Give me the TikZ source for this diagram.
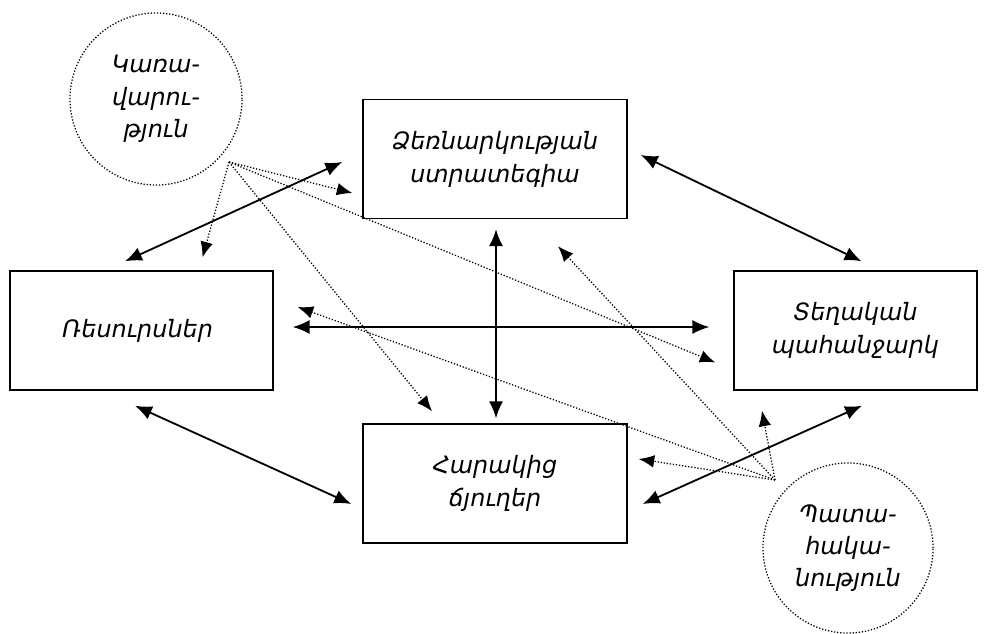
\documentclass[tikz,border=0pt]{standalone}
\usepackage{fontspec}
\setmainfont{DejaVu Sans}
\usetikzlibrary{
	arrows.meta,
	positioning,
	calc
}

\begin{document}
\begin{tikzpicture}[x=0.025cm, y=-0.025cm,
		box/.style={draw, line width=1pt, minimum height=2.975cm, align=center, font=\itshape\fontsize{17}{23.5}\selectfont},
		cloud/.style={draw, dash pattern=on 0.9pt off 1.3pt, line width=0.9pt, circle, inner sep=0pt, align=center, font=\itshape\fontsize{17}{23}\selectfont},
		link/.style={{Latex[length=12pt,width=10pt]}-{Latex[length=12pt,width=10pt]}, line width=1.3pt},
		hint/.style={-{Latex[length=11pt,width=9pt]}, dash pattern=on 0.9pt off 1.3pt, line width=0.9pt}
		]
		
		\useasboundingbox[fill=white] (0,0) rectangle (987,633);
		
		\node[box, minimum width=6.6cm] (strat) at (495,159) {
			Ձեռնարկության\\
			ստրատեգիա
		};
		
		\node[box, minimum width=6.6cm, below=5.1cm of strat] (ind) {
			Հարակից\\
			ճյուղեր
		};
		
		\node[box, minimum width=6.575cm] (res) at (141.5,330.5) {
			Ռեսուրսներ
		};
		
		\node[box, minimum width=6.075cm] (dem) at (855.5,330.5) {
			Տեղական\\
			պահանջարկ
		};
		
		\node[cloud, minimum size=4.3cm] (gov) at (156,99) {
			Կառա-\\
			վարու-\\
			թյուն
		};
		
		\node[cloud, minimum size=4.25cm] (luck) at (848,548) {
			Պատա-\\
			հակա-\\
			նություն
		};
		
		\coordinate (govsrc) at ($(gov)+(73,63)$);
		\coordinate (lucksrc) at ($(luck)+(-73,-68)$);
		
		\draw[link] ($(res.north)+(-16.5,-9)$) -- ($(strat.west)+(-20,3)$);
		\draw[link] ($(strat.east)+(13,-4)$) -- ($(dem.north)+(6,-9)$);
		\draw[link] ($(res.east)+(19,-3.5)$) -- ($(dem.west)+(-24,-3.5)$);
		\draw[link] ($(strat.south)+(1,10)$) -- ($(ind.north)+(1,-5)$);
		\draw[link] ($(res.south)+(-6.5,15)$) -- ($(ind.west)+(-11,20.5)$);
		\draw[link] ($(dem.south)+(6.5,15)$) -- ($(ind.east)+(15,20.5)$);
		
		\draw[hint] (govsrc) -- ($(res.north)+(61,-13)$);
		\draw[hint] (govsrc) -- ($(strat.west)+(-10,34)$);
		\draw[hint] (govsrc) -- ($(ind.north)+(-63,-12)$);
		\draw[hint] (govsrc) -- ($(dem.west)+(-18,32)$);
		
		\draw[hint] (lucksrc) -- ($(ind.east)+(11,-24.5)$);
		\draw[hint] (lucksrc) -- ($(dem.south)+(-93.5,20)$);
		\draw[hint] (lucksrc) -- ($(strat.south)+(63,27)$);
		\draw[hint] (lucksrc) -- ($(res.east)+(24,-23.5)$);
		
	\end{tikzpicture}
\end{document}
